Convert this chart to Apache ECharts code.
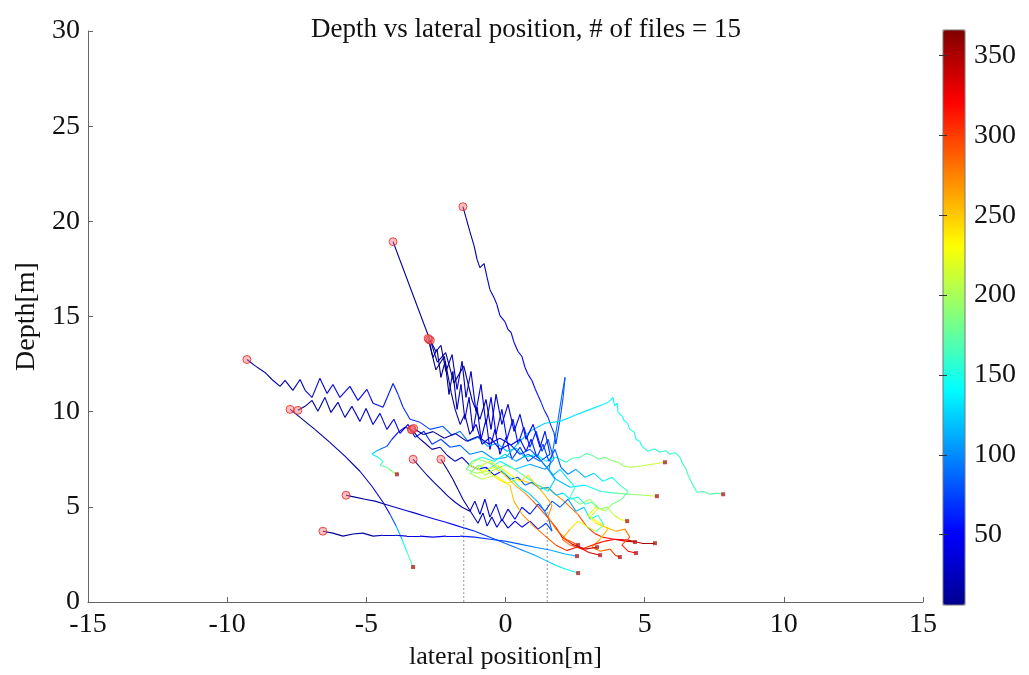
<!DOCTYPE html>
<html><head><meta charset="utf-8">
<script src="https://cdn.jsdelivr.net/npm/echarts@6/dist/echarts.min.js"></script>
<style>html,body{margin:0;padding:0;background:#fff}#c{width:1029px;height:675px}</style>
</head><body><div id="c"></div>
<script>
// ---- data: each track point is [lateral position (m), depth (m), time] ----
const track1 = [[-1.53,20.77,0],[-1.42,20.19,3],[-1.28,19.46,6],[-1.13,18.72,9],[-1.02,17.99,12],[-0.92,17.57,14],[-0.77,17.78,16],[-0.66,17.04,19],[-0.56,16.41,22],[-0.41,15.99,25],[-0.31,15.63,27],[-0.20,15.05,30],[-0.02,14.73,33],[0.09,14.32,35],[0.20,14.16,37],[0.31,13.63,40],[0.45,13.16,43],[0.59,12.90,45],[0.70,12.32,48],[0.81,11.96,50],[0.95,11.64,52],[1.06,11.22,55],[1.17,10.85,57],[1.28,10.49,60],[1.38,10.12,62],[1.53,9.70,65],[1.63,9.28,67],[1.74,8.91,70],[1.81,8.29,73],[1.96,9.60,76],[2.07,10.75,79],[2.14,11.80,82],[2.03,10.90,85],[1.89,9.60,88],[1.71,8.02,92],[1.56,6.97,100],[1.81,6.45,110],[2.32,6.03,125],[2.86,6.14,140],[3.40,5.82,155],[3.94,5.72,170],[4.47,5.66,185],[5.01,5.61,200],[5.44,5.56,210]];
const track2 = [[-4.04,18.93,0],[-2.75,13.90,10],[-2.50,13.16,12],[-2.32,13.48,14],[-2.14,12.11,17],[-1.92,13.00,20],[-1.74,11.17,23],[-1.56,12.64,26],[-1.42,10.75,29],[-1.24,12.11,32],[-1.06,10.02,35],[-0.88,11.43,38],[-0.70,9.33,41],[-0.52,10.75,44],[-0.34,8.81,47],[-0.13,10.12,50],[0.05,8.55,53],[0.27,9.60,56],[0.45,8.29,59],[0.66,9.18,62],[0.88,8.13,66],[1.10,8.97,70],[1.31,7.92,75],[1.53,8.55,80],[1.74,7.50,86],[1.42,6.97,100],[0.88,7.24,115],[0.34,6.97,130],[-0.20,7.39,145],[-0.63,6.97,160],[-0.99,7.18,175],[-1.28,6.76,190],[-0.84,6.45,205],[-0.38,6.66,220],[0.05,6.24,235],[0.45,6.45,245],[1.00,6.20,255],[1.60,5.90,265],[2.10,5.30,275],[2.60,4.60,285],[2.90,4.00,295],[3.20,3.60,305],[3.50,3.40,315],[3.90,3.30,325],[4.30,3.20,338],[4.65,3.15,352]];
const track3 = [[-2.75,13.79,0],[-2.61,12.85,3],[-2.46,13.27,5],[-2.32,11.80,8],[-2.17,12.64,10],[-2.03,10.91,13],[-1.89,12.11,16],[-1.74,10.12,19],[-1.60,11.43,22],[-1.46,9.60,25],[-1.31,10.75,28],[-1.17,8.97,31],[-1.02,10.23,34],[-0.88,8.55,37],[-0.70,9.60,40],[-0.56,8.02,44],[-0.38,9.07,48],[-0.20,7.76,52],[0.02,8.65,56],[0.23,7.50,60],[0.52,8.13,66],[0.81,7.39,72],[1.10,7.71,80],[1.42,7.18,95],[1.71,6.66,110],[1.96,6.97,125],[2.25,6.45,140],[2.50,6.03,155],[2.32,5.51,170],[2.68,5.14,185],[3.04,5.40,198],[3.32,4.88,210],[3.04,4.46,222],[3.40,4.14,234],[3.68,3.83,246],[3.40,3.30,258],[3.11,2.88,270],[3.40,2.67,282],[3.76,2.78,294],[3.94,2.46,306],[4.11,2.36,318]];
const track4 = [[-9.29,12.74,0],[-8.97,12.38,4],[-8.64,12.06,8],[-8.39,11.69,11],[-8.10,11.33,14],[-7.92,11.64,16],[-7.64,11.12,19],[-7.38,11.69,22],[-7.20,11.12,25],[-6.95,10.75,28],[-6.67,11.75,31],[-6.41,10.96,34],[-6.20,11.43,37],[-5.95,10.75,40],[-5.59,11.33,44],[-5.30,10.59,47],[-4.98,11.17,50],[-4.76,10.44,53],[-4.40,10.23,57],[-4.04,11.48,60],[-3.86,10.91,62],[-3.68,10.23,64],[-3.43,9.60,67],[-3.07,9.44,71],[-2.71,9.07,75],[-2.25,9.23,80],[-1.92,8.76,85],[-1.63,8.97,90],[-1.35,8.44,95],[-0.99,8.65,100],[-0.63,8.18,106],[-0.31,8.34,112],[0.05,7.92,118],[0.38,8.08,124],[0.70,7.60,130],[1.10,7.76,137],[1.46,7.39,145],[1.81,7.60,152],[2.17,7.34,160],[2.40,7.55,164],[2.68,7.60,168],[2.90,7.80,172],[3.11,7.71,176],[3.35,7.50,180],[3.58,7.60,184],[3.80,7.45,188],[4.04,7.34,192],[4.25,7.15,196],[4.47,7.08,200],[4.83,7.13,206],[5.26,7.24,212],[5.73,7.34,218]];
const track5 = [[-7.74,10.12,0],[-7.38,9.70,3],[-6.85,9.07,7],[-6.31,8.39,11],[-5.77,7.66,15],[-5.23,6.87,20],[-4.80,6.08,25],[-4.40,5.24,32],[-4.15,4.61,60],[-3.93,3.99,100],[-3.72,3.30,130],[-3.54,2.62,155],[-3.32,1.84,175]];
const track6 = [[-7.46,10.07,0],[-7.20,10.28,3],[-6.95,10.59,6],[-6.74,10.02,9],[-6.49,10.75,12],[-6.27,9.96,15],[-6.02,10.49,18],[-5.77,9.70,21],[-5.52,10.28,24],[-5.23,9.49,27],[-5.01,10.17,30],[-4.76,9.33,33],[-4.51,9.91,36],[-4.26,9.07,40],[-4.01,9.60,44],[-3.79,8.86,48],[-3.50,9.33,52],[-3.25,8.65,56],[-2.93,8.97,61],[-2.64,8.29,66],[-2.32,8.55,72],[-1.99,8.13,78],[-1.63,8.23,85],[-1.28,7.76,92],[-0.84,7.92,100],[-0.41,7.50,108],[0.02,7.60,115],[0.45,8.34,120],[0.88,8.97,124],[1.42,9.39,127],[1.96,9.49,130],[2.50,9.81,133],[3.04,10.12,136],[3.50,10.38,139],[3.70,10.50,140],[3.86,10.75,142],[3.92,10.30,143],[4.02,10.45,144],[4.04,9.96,145],[4.20,9.75,146],[4.26,9.54,147],[4.38,9.40,148],[4.47,9.07,149],[4.62,8.95,150],[4.69,8.55,151],[4.82,8.45,152],[4.90,8.18,153],[5.12,7.92,155],[5.35,8.05,156],[5.55,7.87,157],[5.75,7.95,158],[5.91,7.76,159],[6.10,7.85,160],[6.27,7.60,161],[6.35,7.30,162],[6.49,6.97,163],[6.55,6.70,164],[6.63,6.45,165],[6.75,6.10,166],[6.88,5.77,167],[7.10,5.80,168],[7.35,5.66,169],[7.60,5.72,170],[7.82,5.66,171]];
const track7 = [[-5.73,5.61,0],[-5.41,5.51,5],[-5.05,5.40,10],[-4.69,5.30,15],[-4.33,5.14,20],[-3.97,4.98,25],[-3.61,4.82,30],[-3.25,4.67,35],[-2.89,4.51,40],[-2.53,4.35,45],[-2.17,4.20,50],[-1.81,4.04,55],[-1.46,3.88,60],[-1.10,3.72,66],[-0.74,3.51,72],[-0.38,3.30,78],[-0.02,3.09,85],[0.34,2.88,92],[0.70,2.67,100],[1.06,2.46,110],[1.42,2.20,120],[1.78,1.94,130],[2.14,1.73,140],[2.61,1.52,150]];
const track8 = [[-6.56,3.72,0],[-6.20,3.62,4],[-5.84,3.46,8],[-5.48,3.57,12],[-5.12,3.62,16],[-4.76,3.46,20],[-4.40,3.51,24],[-3.97,3.51,29],[-3.54,3.46,34],[-3.07,3.46,40],[-2.61,3.41,46],[-2.14,3.46,52],[-1.63,3.46,58],[-1.10,3.41,65],[-0.56,3.30,72],[-0.02,3.20,80],[0.52,3.04,88],[1.06,2.88,96],[1.60,2.73,105],[2.14,2.52,115],[2.57,2.41,125]];
const track9 = [[-3.36,9.07,0],[-3.14,8.65,4],[-2.89,8.34,8],[-2.64,8.02,12],[-2.35,8.13,16],[-2.10,7.71,20],[-1.81,7.39,25],[-1.56,7.60,30],[-1.28,7.18,36],[-0.99,6.97,42],[-0.70,7.08,48],[-0.41,6.66,55],[-0.13,6.87,62],[0.16,6.45,70],[0.45,6.55,78],[0.70,6.14,86],[0.95,6.29,94],[1.24,5.93,102],[1.53,6.03,110],[1.81,5.61,120],[2.07,5.72,130],[2.32,5.40,140],[2.61,5.51,150],[2.86,5.14,160],[3.11,5.24,170],[3.40,4.88,182],[3.65,4.98,194],[3.86,4.61,206],[4.11,4.35,218],[4.37,4.25,230]];
const track10 = [[-3.32,7.50,0],[-3.07,7.08,3],[-2.82,6.66,6],[-2.57,6.29,9],[-2.32,5.93,12],[-2.07,5.56,15],[-1.81,5.24,18],[-1.56,4.98,21],[-1.28,4.77,24],[-1.10,5.30,27],[-0.92,4.61,30],[-0.74,5.40,33],[-0.56,4.46,36],[-0.34,5.14,39],[-0.13,4.25,42],[0.09,4.88,46],[0.34,4.35,50],[0.59,4.98,55],[0.88,4.61,60],[1.17,5.14,66],[1.42,4.77,72],[1.67,5.30,78],[1.96,4.98,85],[2.25,5.40,95],[2.53,4.77,110],[2.82,4.98,125],[3.04,4.35,140],[3.32,4.56,155],[3.54,4.04,170],[3.25,3.72,190],[2.97,3.93,210],[2.61,4.25,230],[2.32,3.83,250],[2.03,3.30,270],[2.32,2.99,285],[2.75,2.78,298],[3.22,3.04,310],[3.58,3.20,320],[3.94,3.30,328],[4.40,3.25,336],[4.90,3.09,345],[5.37,3.09,355]];
const track11 = [[-2.32,7.50,0],[-2.10,6.97,3],[-1.89,6.45,6],[-1.71,5.93,9],[-1.53,5.40,12],[-1.35,4.98,15],[-1.17,4.56,18],[-0.99,4.14,21],[-0.81,4.67,24],[-0.66,3.99,27],[-0.49,4.46,30],[-0.31,3.93,33],[-0.13,4.35,36],[0.09,3.88,40],[0.34,4.25,45],[0.59,3.93,50],[0.88,4.25,56],[1.17,3.83,62],[1.46,4.14,70],[1.67,3.72,80],[1.53,4.46,95],[1.24,5.14,110],[0.88,5.66,125],[0.52,6.03,140],[0.16,6.55,155],[-0.20,6.97,170],[-0.56,7.29,185],[-0.99,7.50,200],[-1.28,7.18,212],[-0.84,6.87,224],[-0.41,7.08,236],[-0.02,6.66,248],[0.34,6.14,260],[0.70,5.72,272],[0.99,5.30,284],[1.42,4.61,296],[1.81,3.93,308],[2.03,3.41,318],[2.39,3.04,328],[2.86,2.78,338],[3.29,2.88,348]];
const track12 = [[-3.38,9.05,0],[-3.61,9.18,20],[-3.86,8.91,40],[-4.08,8.55,60],[-4.26,8.18,80],[-4.51,8.02,100],[-4.65,7.92,120],[-4.80,7.76,135],[-4.58,7.60,150],[-4.40,7.39,160],[-4.51,7.18,170],[-4.26,7.08,180],[-4.08,6.87,188],[-3.90,6.71,195]];
const track13 = [[-2.70,13.75,0],[-2.45,12.60,3],[-2.15,13.10,5],[-1.85,11.50,8],[-1.50,12.40,11],[-1.20,10.60,14],[-0.92,9.60,17],[-0.70,10.64,20],[-0.52,9.07,23],[-0.34,10.91,26],[-0.13,9.33,29],[0.09,10.38,32],[0.31,8.97,36],[0.52,9.86,40],[0.74,8.55,44],[0.99,9.33,48],[1.24,8.13,54],[1.42,8.97,60],[1.60,7.76,66],[1.24,7.39,80],[0.81,7.76,95],[0.38,7.39,110],[-0.02,7.76,125],[-0.41,7.39,140],[-0.84,7.60,155],[-1.20,7.39,170],[-1.42,6.97,185],[-1.06,6.76,200],[-0.63,6.87,215],[-0.27,6.45,230],[0.16,6.14,245],[0.30,5.30,255],[0.60,4.60,265],[1.00,4.00,275],[1.40,3.50,285],[1.80,3.00,295],[2.20,2.70,305],[2.60,2.90,315],[3.00,2.60,328],[3.40,2.46,348]];
const track14 = [[-3.30,9.12,0],[-2.95,8.80,5],[-2.60,8.95,10],[-2.20,8.60,15],[-1.80,8.85,20],[-1.40,8.45,25],[-1.00,8.70,30],[-0.60,8.30,35],[-0.20,8.60,40],[0.20,8.25,45],[0.52,8.55,50],[0.74,7.92,55],[0.92,8.55,60],[1.13,7.60,65],[1.35,8.29,70],[1.56,7.39,75],[1.78,8.02,80],[1.99,7.08,88],[2.25,6.71,98],[2.53,6.97,108],[2.86,6.55,118],[3.18,6.76,128],[3.50,6.34,138],[3.83,6.55,148],[4.11,6.14,158],[4.40,5.82,168],[4.18,5.40,178],[3.83,5.14,190],[3.58,4.77,202],[3.25,4.98,214],[2.97,4.56,226],[3.25,4.14,238],[3.61,3.93,250],[3.97,3.72,262],[4.29,3.83,274],[4.47,3.41,288],[4.18,3.00,302],[4.40,2.67,316],[4.69,2.57,330]];
const track15 = [[-2.78,13.85,0],[-2.50,12.20,4],[-2.20,12.90,7],[-1.95,11.00,10],[-1.81,10.12,13],[-1.63,9.33,17],[-1.46,9.86,21],[-1.28,8.81,25],[-1.06,9.33,29],[-0.84,8.29,33],[-0.56,8.65,38],[-0.20,8.02,46],[0.16,8.29,56],[0.52,7.76,68],[0.88,8.02,80],[1.24,7.50,93],[1.53,6.97,106],[1.78,6.45,120],[1.53,5.82,134],[1.17,6.14,148],[0.74,6.55,162],[0.34,6.97,176],[-0.02,7.18,190],[-0.38,6.97,198],[-0.74,6.66,206],[-0.99,7.08,212],[-0.56,7.39,218],[-0.20,7.08,224],[0.16,6.71,230],[0.52,6.34,236],[0.81,6.66,242],[1.10,6.14,250],[1.42,5.61,258],[1.67,5.09,266],[1.53,4.46,274],[1.81,3.83,282],[2.17,3.30,290],[2.61,2.99,298]];
const tracks = [track1,track2,track3,track4,track5,track6,track7,track8,track9,track10,track11,track12,track13,track14,track15];

// vertical dotted guide lines: lateral position and top depth
const guideX = [-1.5, 1.5];
const guideTop = [4.5, 5.1];

const xTicks = [-15,-10,-5,0,5,10,15];
const yTicks = [0,5,10,15,20,25,30];
const timeMin = 6, timeMax = 366;
const colorbarTicks = [50,100,150,200,250,300,350];
const titleText = 'Depth vs lateral position, # of files = 15';

// ---- build options ----
const jet = ['#00008f','#0000ff','#0080ff','#00ffff','#80ff80','#ffff00','#ff8000','#ff0000','#800000'];
const segs = [];
tracks.forEach(tr => {
  for (let i = 0; i < tr.length - 1; i++) {
    segs.push({coords: [[tr[i][0], tr[i][1]], [tr[i+1][0], tr[i+1][1]]], value: (tr[i][2] + tr[i+1][2]) / 2});
  }
});
const starts = tracks.map(tr => [tr[0][0], tr[0][1]]);
const ends = tracks.map(tr => [tr[tr.length-1][0], tr[tr.length-1][1]]);
const FONT = 'Liberation Serif';

const guideSeries = guideX.map((gx, i) => ({
  type: 'line', xAxisIndex: 0, yAxisIndex: 0, data: [[gx, 0], [gx, guideTop[i]]],
  symbol: 'none', silent: true, lineStyle: {color: '#999', width: 1, type: [2, 2]}, z: 1
}));

const chart = echarts.init(document.getElementById('c'), null, {renderer: 'canvas'});
chart.setOption({
  animation: false,
  backgroundColor: '#fff',
  title: {text: titleText, left: 306, top: 11, textStyle: {fontFamily: FONT, fontSize: 27, fontWeight: 'normal', color: '#111'}},
  grid: [
    {left: 88, right: 106, top: 31, bottom: 72},
    {left: 943, width: 22, top: 30, height: 575, show: true, borderColor: '#777', borderWidth: 1, z: 6}
  ],
  xAxis: [
    {type: 'value', gridIndex: 0, min: -15, max: 15, interval: 5,
     name: 'lateral position[m]', nameLocation: 'middle', nameGap: 42,
     nameTextStyle: {fontFamily: FONT, fontSize: 26, color: '#111'},
     axisLine: {onZero: false, lineStyle: {color: '#666'}}, axisTick: {inside: true, length: 5, lineStyle: {color: '#666'}},
     axisLabel: {fontFamily: FONT, fontSize: 28, color: '#111', margin: 9}, splitLine: {show: false}},
    {type: 'value', gridIndex: 1, min: 0, max: 1, show: false}
  ],
  yAxis: [
    {type: 'value', gridIndex: 0, min: 0, max: 30, interval: 5,
     name: 'Depth[m]', nameLocation: 'middle', nameGap: 47, nameRotate: 90,
     nameTextStyle: {fontFamily: FONT, fontSize: 28, color: '#111'},
     axisLine: {onZero: false, lineStyle: {color: '#666'}}, axisTick: {inside: true, length: 5, lineStyle: {color: '#666'}},
     axisLabel: {fontFamily: FONT, fontSize: 28, color: '#111', margin: 8}, splitLine: {show: false}},
    {type: 'value', gridIndex: 1, min: timeMin, max: timeMax, position: 'right', z: 8,
     axisLine: {show: false}, splitLine: {show: false},
     axisTick: {inside: true, length: 4, customValues: colorbarTicks, lineStyle: {color: '#333'}},
     axisLabel: {customValues: colorbarTicks, fontFamily: FONT, fontSize: 28, color: '#111', margin: 9}},
    {type: 'value', gridIndex: 1, min: timeMin, max: timeMax, position: 'left', z: 8,
     axisLine: {show: false}, splitLine: {show: false}, axisLabel: {show: false},
     axisTick: {inside: true, length: 4, customValues: colorbarTicks, lineStyle: {color: '#333'}}}
  ],
  visualMap: {
    type: 'continuous', seriesIndex: 0, min: timeMin, max: timeMax, inRange: {color: jet},
    calculable: false, hoverLink: false, orient: 'vertical', left: 943, top: 30,
    itemWidth: 22, itemHeight: 575, text: null, padding: 0, z: 4
  },
  series: [
    {type: 'lines', coordinateSystem: 'cartesian2d', xAxisIndex: 0, yAxisIndex: 0, polyline: false,
     data: segs, lineStyle: {width: 1.1, opacity: 1}, silent: true, z: 2},
    {type: 'scatter', xAxisIndex: 0, yAxisIndex: 0, data: starts, symbol: 'circle', symbolSize: 8,
     itemStyle: {color: 'rgba(255,110,110,0.55)', borderColor: '#e02828', borderWidth: 1}, silent: true, z: 3},
    {type: 'scatter', xAxisIndex: 0, yAxisIndex: 0, data: ends, symbol: 'rect', symbolSize: 4,
     itemStyle: {color: '#b02020'}, silent: true, z: 3},
    ...guideSeries
  ]
});
</script></body></html>
